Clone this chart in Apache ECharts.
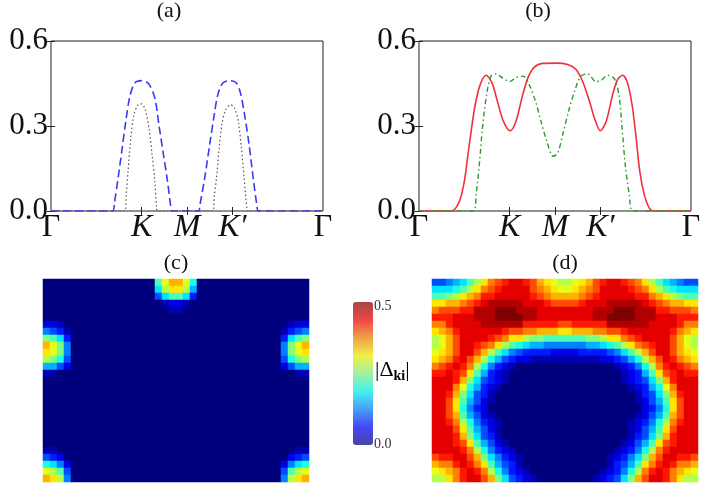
<!DOCTYPE html>
<html>
<head>
<meta charset="utf-8">
<script src="https://cdn.jsdelivr.net/npm/echarts@6/dist/echarts.min.js"></script>
<style>
  html, body { margin: 0; padding: 0; background: #fff; }
  #chart { width: 703px; height: 492px; }
</style>
</head>
<body>
<div id="chart"></div>
<script>
// path positions along Γ-K-M-K'-Γ (units of half the Γ-K length)
const kTicks = [0, 2, 3, 4, 6];
const kNames = ['Γ', 'K', 'M', 'K′', 'Γ'];
const kInner = [2, 3, 4];

// panel (a)
const blueA = [[0, 0], [1.36, 0], [1.40, 0.03], [1.48, 0.116], [1.57, 0.222], [1.65, 0.317], [1.74, 0.405],
  [1.85, 0.452], [2.0, 0.46], [2.15, 0.45], [2.29, 0.399], [2.38, 0.305], [2.47, 0.21], [2.57, 0.105],
  [2.64, 0.017], [2.66, 0], [3.26, 0], [3.28, 0.017], [3.39, 0.116], [3.5, 0.234], [3.59, 0.328],
  [3.68, 0.41], [3.79, 0.452], [3.96, 0.46], [4.09, 0.452], [4.18, 0.416], [4.27, 0.34], [4.37, 0.234],
  [4.46, 0.116], [4.55, 0.01], [4.57, 0], [6, 0]];
const blackA = [[0, 0], [1.62, 0], [1.66, 0.06], [1.70, 0.14], [1.76, 0.258], [1.83, 0.34], [1.92, 0.375],
  [2.0, 0.378], [2.08, 0.357], [2.16, 0.293], [2.23, 0.199], [2.29, 0.105], [2.33, 0.01], [2.35, 0],
  [3.57, 0], [3.6, 0.05], [3.65, 0.116], [3.71, 0.222], [3.77, 0.305], [3.85, 0.357], [3.96, 0.375],
  [4.05, 0.363], [4.13, 0.317], [4.2, 0.222], [4.26, 0.116], [4.32, 0.01], [4.34, 0], [6, 0]];

// panel (b)
const redB = [[0, 0], [0.72, 0], [0.89, 0.034], [1.0, 0.105], [1.07, 0.187], [1.15, 0.281], [1.24, 0.375],
  [1.35, 0.446], [1.48, 0.479], [1.61, 0.452], [1.74, 0.381], [1.86, 0.317], [2.01, 0.283], [2.14, 0.317],
  [2.27, 0.399], [2.4, 0.469], [2.54, 0.507], [2.73, 0.521], [3.02, 0.522], [3.28, 0.517], [3.46, 0.5],
  [3.61, 0.457], [3.76, 0.387], [3.88, 0.323], [4.0, 0.283], [4.13, 0.317], [4.27, 0.41], [4.38, 0.464],
  [4.49, 0.479], [4.6, 0.452], [4.7, 0.375], [4.79, 0.258], [4.87, 0.14], [4.97, 0.057], [5.08, 0.01],
  [5.17, 0], [6, 0]];
const greenB = [[0, 0], [1.2, 0], [1.26, 0.057], [1.33, 0.163], [1.4, 0.293], [1.49, 0.41], [1.59, 0.476],
  [1.7, 0.484], [1.85, 0.469], [2.0, 0.457], [2.14, 0.471], [2.3, 0.476], [2.43, 0.446], [2.57, 0.387],
  [2.69, 0.317], [2.82, 0.246], [2.96, 0.193], [3.06, 0.205], [3.17, 0.27], [3.3, 0.352], [3.43, 0.422],
  [3.57, 0.476], [3.72, 0.484], [3.9, 0.457], [4.01, 0.46], [4.16, 0.479], [4.31, 0.467], [4.41, 0.41],
  [4.48, 0.293], [4.55, 0.163], [4.64, 0.057], [4.73, 0], [6, 0]];

// maps (c) and (d), 38 x 29 cells: one character per cell, level 0..k (base 36),
// |Δ| = level * levelStep.  z(n) is a run of n empty cells.
const levelStep = 0.025;
const z = n => '0'.repeat(n);
const mapC = [
  z(16) + '9ce' + 'ec8' + z(16),
  z(16) + '7bd' + 'db6' + z(16),
  z(16) + '479' + '973' + z(16),
  z(17) + '12' + '21' + z(17),
  z(18) + '1' + '1' + z(18),
  z(38),
  '221' + z(16) + z(16) + '122',
  '5431' + z(15) + z(15) + '1345',
  'a973' + z(15) + z(15) + '379a',
  'eca5' + z(15) + z(15) + '5ace',
  'dca5' + z(15) + z(15) + '5acd',
  'ba84' + z(15) + z(15) + '48ab',
  '6642' + z(15) + z(15) + '2466',
  '11' + z(17) + z(17) + '11',
  z(38), z(38), z(38), z(38), z(38), z(38), z(38), z(38), z(38), z(38),
  '11' + z(17) + z(17) + '11',
  '432' + z(16) + z(16) + '234',
  '8752' + z(15) + z(15) + '2578',
  'cb94' + z(15) + z(15) + '49bc',
  'edb5' + z(15) + z(15) + '5bde'
];
const mapD = [
  '445679bdfghiihgedcb' + 'bcdeghiihgfdb976544',
  '77789bdfghiiiigfedc' + 'cdefgiiiihgfdb98777',
  '99abdefhhiiiiihgfee' + 'eefghiiiiihhfedba99',
  'ddeefghijjjjjiiihgg' + 'gghiiijjjjjihgfeedd',
  'fggghhjjjkkkjjjiiii' + 'iiiijjjkkkjjjhhgggf',
  'hhhiiijjjkkkkjjiiii' + 'iiiijjkkkkjjjiiihhh',
  'ffhiiiijjjjjjhhhhhg' + 'ghhhhhjjjjjjiiiihff',
  'defhiiiiiihggffeeed' + 'deeeffgghiiiiiihfed',
  'bcegiiiihgfddbaa999' + '999aabddfghiiiigecb',
  'bcegiihgfdb98766555' + '55566789bdfghiigecb',
  'cdegiigeb9754333322' + '2233334579begiigedc',
  'defhigeb86432211111' + '11111223468begihfed',
  'fghihfb85321' + z(7) + z(7) + '12358bfhihgf',
  'hhihgd96321' + z(8) + z(8) + '12369dghihh',
  'iiihea74321' + z(8) + z(8) + '12347aehiii',
  'iiifc86321' + z(9) + z(9) + '12368cfiii',
  'iihea7431' + z(10) + z(10) + '1347aehii',
  'iigd96421' + z(10) + z(10) + '12469dgii',
  'iigd8532' + z(11) + z(11) + '2358dgii',
  'iige96421' + z(10) + z(10) + '12469egii',
  'iihfb85321' + z(9) + z(9) + '12358bfhii',
  'iiigd96421' + z(9) + z(9) + '12469dgiii',
  'iiihea7431' + z(9) + z(9) + '1347aehiii',
  'iiihgd96421' + z(8) + z(8) + '12469dghiii',
  'iiiihfb85321' + z(7) + z(7) + '12358bfhiiii',
  'ghhiigea75321' + z(6) + z(6) + '12357aegiihhg',
  'effhihfd96431' + z(6) + z(6) + '13469dfhihffe',
  'cdefhihfb85321' + z(5) + z(5) + '12358bfhihfedc',
  'bbdfhiigea74321' + z(4) + z(4) + '12347aegiihfdbb'
];

const jet = ['#00007f', '#0000ff', '#007fff', '#00ffff', '#7fff7f', '#ffff00', '#ff7f00', '#ff0000', '#7f0000'];
const jetBar = ['#4646a6', '#4646f6', '#46a0f6', '#46f0f0', '#a0f0a0', '#f0f046', '#f0a046', '#f04646', '#a64646'];

const SERIF = 'Liberation Serif';

function toCells(rows) {
  const out = [];
  rows.forEach((row, r) => {
    for (let c = 0; c < row.length; c++) {
      out.push([c, r, parseInt(row[c], 36) * levelStep]);
    }
  });
  return out;
}

const colIdx = mapD[0].split('').map((_, i) => i);
const rowIdx = mapD.map((_, i) => i);

const tickStyle = { color: '#222', width: 1 };

function kLabel(v) {
  const i = kTicks.indexOf(v);
  if (i < 0) return '';
  return (i === 0 || i === kTicks.length - 1) ? '{u|' + kNames[i] + '}' : '{i|' + kNames[i] + '}';
}

function lineXAxes(g) {
  return [
    {
      gridIndex: g, type: 'value', min: 0, max: 6, position: 'bottom',
      axisLine: { show: false },
      axisTick: { show: true, inside: true, length: 4, customValues: kInner, lineStyle: tickStyle },
      axisLabel: {
        customValues: kTicks, margin: 1, formatter: kLabel,
        rich: {
          u: { fontFamily: SERIF, fontSize: 32, color: '#111' },
          i: { fontFamily: SERIF, fontSize: 32, fontStyle: 'italic', color: '#111' }
        }
      },
      splitLine: { show: false }
    },
    {
      gridIndex: g, type: 'value', min: 0, max: 6, position: 'top',
      axisLine: { show: false },
      axisTick: { show: true, inside: true, length: 4, customValues: kInner, lineStyle: tickStyle },
      axisLabel: { show: false },
      splitLine: { show: false }
    }
  ];
}

function lineYAxes(g) {
  return [
    {
      gridIndex: g, type: 'value', min: 0, max: 0.6, interval: 0.3, position: 'left',
      axisLine: { show: false },
      axisTick: { show: true, inside: true, length: 4, lineStyle: tickStyle },
      axisLabel: {
        margin: 3, fontFamily: SERIF, fontSize: 31, color: '#111',
        formatter: v => v.toFixed(1)
      },
      splitLine: { show: false }
    },
    {
      gridIndex: g, type: 'value', min: 0, max: 0.6, interval: 0.3, position: 'right',
      axisLine: { show: false },
      axisTick: { show: true, inside: true, length: 4, lineStyle: tickStyle },
      axisLabel: { show: false },
      splitLine: { show: false }
    }
  ];
}

function mapAxisX(g) {
  return { gridIndex: g, type: 'category', data: colIdx, show: false };
}
function mapAxisY(g) {
  return { gridIndex: g, type: 'category', data: rowIdx, inverse: true, show: false };
}

const frame = { show: true, borderColor: '#222', borderWidth: 1, backgroundColor: '#fff' };

const chart = echarts.init(document.getElementById('chart'));
chart.setOption({
  animation: false,
  backgroundColor: '#fff',
  grid: [
    Object.assign({ left: 51, top: 41, width: 272, height: 170, outerBoundsMode: 'none' }, frame),
    Object.assign({ left: 419, top: 41, width: 272, height: 170, outerBoundsMode: 'none' }, frame),
    { left: 43, top: 279, width: 266, height: 203, outerBoundsMode: 'none' },
    { left: 432, top: 279, width: 266, height: 203, outerBoundsMode: 'none' }
  ],
  xAxis: [...lineXAxes(0), ...lineXAxes(1), mapAxisX(2), mapAxisX(3)],
  yAxis: [...lineYAxes(0), ...lineYAxes(1), mapAxisY(2), mapAxisY(3)],
  visualMap: {
    type: 'continuous', min: 0, max: 0.5, seriesIndex: [4, 5],
    calculable: false, left: 353, top: 302, itemWidth: 20, itemHeight: 143, padding: 0,
    inRange: { color: jet },
    controller: { inRange: { color: jetBar } }
  },
  series: [
    {
      type: 'line', xAxisIndex: 0, yAxisIndex: 0, data: blueA, showSymbol: false, smooth: 0.3,
      lineStyle: { color: '#3a3af0', width: 1.6, type: [8, 4] }, z: 3
    },
    {
      type: 'line', xAxisIndex: 0, yAxisIndex: 0, data: blackA, showSymbol: false, smooth: 0.3,
      lineStyle: { color: '#555', width: 1.2, type: [1.5, 2.5] }, z: 3
    },
    {
      type: 'line', xAxisIndex: 2, yAxisIndex: 2, data: redB, showSymbol: false, smooth: 0.3,
      lineStyle: { color: '#f2303c', width: 1.6 }, z: 3
    },
    {
      type: 'line', xAxisIndex: 2, yAxisIndex: 2, data: greenB, showSymbol: false, smooth: 0.3,
      lineStyle: { color: '#2e9a2e', width: 1.4, type: [5, 3, 1.5, 3] }, z: 3
    },
    {
      type: 'heatmap', xAxisIndex: 4, yAxisIndex: 4, data: toCells(mapC),
      emphasis: { disabled: true }, progressive: 0
    },
    {
      type: 'heatmap', xAxisIndex: 5, yAxisIndex: 5, data: toCells(mapD),
      emphasis: { disabled: true }, progressive: 0
    }
  ],
  graphic: [
    { type: 'text', style: { x: 169, y: 11, text: '(a)', fontFamily: SERIF, fontSize: 22, fill: '#111', textAlign: 'center', textVerticalAlign: 'middle' } },
    { type: 'text', style: { x: 538, y: 11, text: '(b)', fontFamily: SERIF, fontSize: 22, fill: '#111', textAlign: 'center', textVerticalAlign: 'middle' } },
    { type: 'text', style: { x: 176, y: 263, text: '(c)', fontFamily: SERIF, fontSize: 22, fill: '#111', textAlign: 'center', textVerticalAlign: 'middle' } },
    { type: 'text', style: { x: 565, y: 263, text: '(d)', fontFamily: SERIF, fontSize: 22, fill: '#111', textAlign: 'center', textVerticalAlign: 'middle' } },
    { type: 'text', style: { x: 374, y: 306, text: '0.5', fontFamily: SERIF, fontSize: 14, fill: '#333', textAlign: 'left', textVerticalAlign: 'middle' } },
    { type: 'text', style: { x: 374, y: 444, text: '0.0', fontFamily: SERIF, fontSize: 14, fill: '#333', textAlign: 'left', textVerticalAlign: 'middle' } },
    {
      type: 'text',
      style: {
        x: 375, y: 370, textAlign: 'left', textVerticalAlign: 'middle',
        text: '{n||Δ}{s|ki}{n||}',
        rich: {
          n: { fontFamily: SERIF, fontSize: 22, lineHeight: 26, color: '#222' },
          s: { fontFamily: SERIF, fontSize: 14, fontWeight: 'bold', lineHeight: 14, verticalAlign: 'bottom', color: '#222' }
        }
      }
    }
  ]
});
</script>
</body>
</html>
